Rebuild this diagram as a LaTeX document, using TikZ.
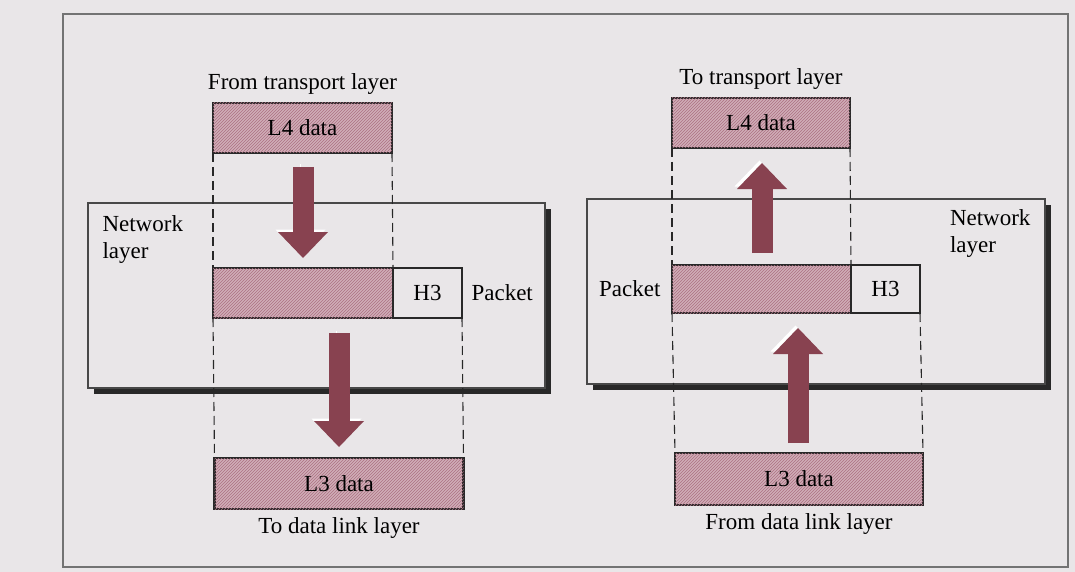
\documentclass[tikz,border=0pt]{standalone}
\usepackage{fontspec}
\setmainfont{Liberation Serif}
\usepackage{tikz}
\usetikzlibrary{arrows.meta,positioning,patterns,shadows}
\usepackage{xcolor}
\definecolor{pagegray}{RGB}{233,230,232}
\definecolor{pdupink}{RGB}{208,174,184}
\definecolor{hatchred}{RGB}{172,112,130}
\definecolor{arrowred}{RGB}{136,66,80}
\definecolor{inkgray}{RGB}{40,40,40}

\begin{document}
\begin{tikzpicture}[x=1pt, y=-1pt, >=Latex, font=\fontsize{23}{27}\selectfont]
  \tikzstyle{pdu}=[rectangle, draw=inkgray, line width=2.4pt, outer sep=0pt, fill=pdupink, postaction={pattern=north east lines, pattern color=hatchred}]
  \tikzstyle{hdr}=[rectangle, draw=inkgray, line width=2.4pt, outer sep=0pt, fill=pagegray]
  \tikzstyle{layer}=[rectangle, draw=inkgray!85, line width=1.1pt, outer sep=0pt, fill=pagegray, drop shadow={shadow xshift=6pt, shadow yshift=-6pt, fill=inkgray, opacity=1}]
  \tikzstyle{guide}=[draw=inkgray, line width=1.1pt, dash pattern=on 9pt off 5pt]
  \tikzstyle{fat}=[line width=21pt, draw=arrowred, -{Triangle[length=26pt, width=50pt, line width=0pt]}, preaction={draw=white, transform canvas={xshift=-2.5pt, yshift=2.5pt}}]
  \path[use as bounding box, fill=pagegray] (0,0) rectangle (1075,572);
  \draw[draw=black!55, line width=1.2pt] (63,14) rectangle (1068,567);

  % sending side
  \node[layer, minimum width=457pt, minimum height=185pt] (netL) at (316.5,295.5) {};
  \node[pdu, minimum width=179pt, minimum height=50pt] (topL) at (302.5,128) {L4 data};
  \node[pdu, minimum width=180pt, minimum height=50pt] (pktL) at (303,293) {};
  \node[hdr, minimum width=69pt, minimum height=50pt, right=0pt of pktL] (hdrL) {H3};
  \node[pdu, minimum width=249pt, minimum height=51pt] (botL) at (339,483.5) {L3 data};
  \node[above=5pt of topL] (fromT) {From transport layer};
  \node[below=5pt of botL] (toD) {To data link layer};
  \node[right=6pt of hdrL] (pkL) {Packet};
  \node[below right=9pt and 11pt of netL.north west, align=left] (nlL) {Network\\layer};
  \draw[guide] (topL.south west) -- (pktL.north west);
  \draw[guide] (topL.south east) -- (pktL.north east);
  \draw[guide] (pktL.south west) -- (botL.north west);
  \draw[guide] (hdrL.south east) -- (botL.north east);
  \coordinate (a1) at (303,167);
  \coordinate (b1) at (303,258);
  \coordinate (a2) at (339,333);
  \coordinate (b2) at (339,447);
  \draw[fat] (a1) -- (b1);
  \draw[fat] (a2) -- (b2);

  % receiving side
  \node[layer, minimum width=458pt, minimum height=185pt] (netR) at (816,291.5) {};
  \node[pdu, minimum width=178pt, minimum height=50pt] (topR) at (761,123) {L4 data};
  \node[pdu, minimum width=179pt, minimum height=48pt] (pktR) at (761.5,289) {};
  \node[hdr, minimum width=69pt, minimum height=48pt, right=0pt of pktR] (hdrR) {H3};
  \node[pdu, minimum width=248pt, minimum height=52pt] (botR) at (799,479) {L3 data};
  \node[above=5pt of topR] (toT) {To transport layer};
  \node[below=5pt of botR] (fromD) {From data link layer};
  \node[left=8pt of pktR] (pkR) {Packet};
  \node[below left=7pt and 11pt of netR.north east, align=left] (nlR) {Network\\layer};
  \draw[guide] (topR.south west) -- (pktR.north west);
  \draw[guide] (topR.south east) -- (pktR.north east);
  \draw[guide] (pktR.south west) -- (botR.north west);
  \draw[guide] (hdrR.south east) -- (botR.north east);
  \coordinate (c1) at (762,253);
  \coordinate (d1) at (762,163);
  \coordinate (c2) at (798,443);
  \coordinate (d2) at (798,328);
  \draw[fat] (c1) -- (d1);
  \draw[fat] (c2) -- (d2);
\end{tikzpicture}
\end{document}
